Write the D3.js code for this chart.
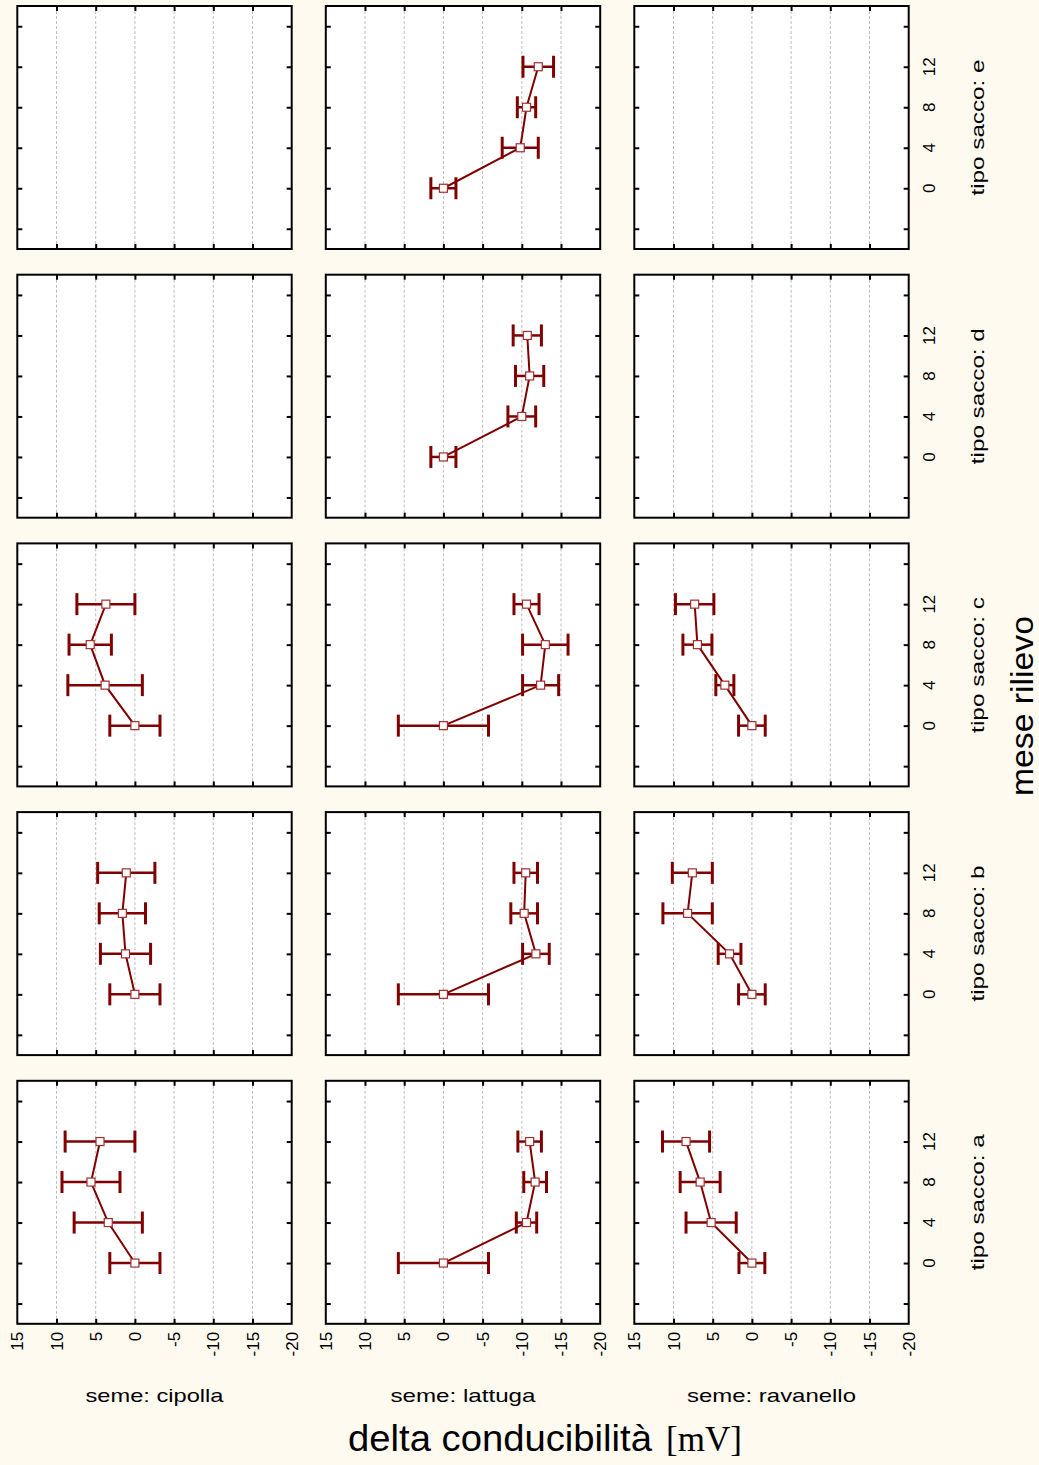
<!DOCTYPE html>
<html>
<head>
<meta charset="utf-8">
<script src="https://cdn.jsdelivr.net/npm/d3@7"></script>
<style>
  html, body { margin: 0; padding: 0; background: #fffaf0; }
  svg { display: block; }
  text { font-family: "Liberation Sans", Arial, sans-serif; fill: #000; }
</style>
</head>
<body>
<div id="chart"></div>
<script>
// seeds are columns, bag types are rows (a at the bottom)
var seeds = ["cipolla", "lattuga", "ravanello"];
var sacks = ["a", "b", "c", "d", "e"];
var months = [0, 4, 8, 12];
var xTicks = [15, 10, 5, 0, -5, -10, -15, -20];
var yTicks = [0, 4, 8, 12];
var yMinor = [-4, 0, 4, 8, 12, 16];

// means and half-width of error bars, one row per sack a..e (null = no data)
var meanCipolla = [[0, 3.4, 5.6, 4.45], [0, 1.2, 1.6, 1.1], [0, 3.8, 5.7, 3.7], null, null];
var errCipolla  = [[3.2, 4.35, 3.7, 4.45], [3.2, 3.2, 2.95, 3.65], [3.2, 4.75, 2.7, 3.7], null, null];
var meanLattuga = [[0, -10.6, -11.7, -11.0], [0, -11.8, -10.3, -10.5], [0, -12.4, -13.0, -10.6], [0, -10.0, -11.0, -10.7], [0, -9.8, -10.6, -12.1]];
var errLattuga  = [[5.75, 1.3, 1.45, 1.5], [5.75, 1.7, 1.7, 1.5], [5.75, 2.3, 2.9, 1.6], [1.6, 1.77, 1.8, 1.8], [1.6, 2.3, 1.17, 1.95]];
var meanRavanello = [[0, 5.2, 6.6, 8.4], [0, 2.85, 8.2, 7.6], [0, 3.45, 6.95, 7.3], null, null];
var errRavanello  = [[1.65, 3.2, 2.55, 3.0], [1.7, 1.45, 3.15, 2.55], [1.7, 1.15, 1.85, 2.45], null, null];

var means = [meanCipolla, meanLattuga, meanRavanello];
var errs = [errCipolla, errLattuga, errRavanello];

var width = 1039, height = 1465;
var panelW = 274.4, panelH = 243;
var left0 = 17.3, colStep = 308.5;
var top0 = 6, rowStep = 268.7;
var red = "#800000";

var svg = d3.select("#chart").append("svg")
    .attr("width", width)
    .attr("height", height);

svg.append("rect")
    .attr("width", width)
    .attr("height", height)
    .attr("fill", "#fffaf0");

var x = d3.scaleLinear().domain([15, -20]).range([0, panelW]);
var y = d3.scaleLinear().domain([-6, 18]).range([panelH, 0]);

seeds.forEach(function(seed, ci) {
  sacks.forEach(function(sack, si) {
    var ri = sacks.length - 1 - si;  // e on top
    var g = svg.append("g")
        .attr("transform", "translate(" + (left0 + ci * colStep) + "," + (top0 + ri * rowStep) + ")");

    g.append("rect")
        .attr("width", panelW)
        .attr("height", panelH)
        .attr("fill", "#fff");

    // dashed grid
    g.append("g")
      .selectAll("line")
        .data(xTicks.slice(1, -1))
      .enter().append("line")
        .attr("x1", function(d) { return x(d); })
        .attr("x2", function(d) { return x(d); })
        .attr("y1", 0)
        .attr("y2", panelH)
        .attr("stroke", "#bdbdbd")
        .attr("stroke-width", 1)
        .attr("stroke-dasharray", "3,2");

    // inward ticks on all four sides
    var tickStyle = function(sel) {
      sel.select(".domain").remove();
      sel.selectAll(".tick line").attr("stroke", "#000").attr("stroke-width", 2);
    };
    g.append("g").attr("transform", "translate(0," + panelH + ")")
        .call(d3.axisTop(x).tickValues(xTicks.slice(1, -1)).tickSize(5).tickFormat("")).call(tickStyle);
    g.append("g")
        .call(d3.axisBottom(x).tickValues(xTicks.slice(1, -1)).tickSize(5).tickFormat("")).call(tickStyle);
    g.append("g")
        .call(d3.axisRight(y).tickValues(yMinor).tickSize(5).tickFormat("")).call(tickStyle);
    g.append("g").attr("transform", "translate(" + panelW + ",0)")
        .call(d3.axisLeft(y).tickValues(yMinor).tickSize(5).tickFormat("")).call(tickStyle);

    g.append("rect")
        .attr("width", panelW)
        .attr("height", panelH)
        .attr("fill", "none")
        .attr("stroke", "#000")
        .attr("stroke-width", 2);

    var m = means[ci][si];
    var e = errs[ci][si];
    if (m) {
      var pts = months.map(function(mo, i) { return { month: mo, mean: m[i], err: e[i] }; });

      var bars = g.append("g").selectAll("g")
          .data(pts)
        .enter().append("g");
      bars.append("line")
          .attr("x1", function(d) { return x(d.mean + d.err); })
          .attr("x2", function(d) { return x(d.mean - d.err); })
          .attr("y1", function(d) { return y(d.month); })
          .attr("y2", function(d) { return y(d.month); })
          .attr("stroke", red)
          .attr("stroke-width", 2.5);
      [1, -1].forEach(function(s) {
        bars.append("line")
            .attr("x1", function(d) { return x(d.mean + s * d.err); })
            .attr("x2", function(d) { return x(d.mean + s * d.err); })
            .attr("y1", function(d) { return y(d.month) - 11; })
            .attr("y2", function(d) { return y(d.month) + 11; })
            .attr("stroke", red)
            .attr("stroke-width", 3);
      });

      g.append("path")
          .datum(pts)
          .attr("fill", "none")
          .attr("stroke", red)
          .attr("stroke-width", 2)
          .attr("d", d3.line()
              .x(function(d) { return x(d.mean); })
              .y(function(d) { return y(d.month); }));

      g.append("g").selectAll("rect")
          .data(pts)
        .enter().append("rect")
          .attr("x", function(d) { return x(d.mean) - 4; })
          .attr("y", function(d) { return y(d.month) - 4; })
          .attr("width", 8)
          .attr("height", 8)
          .attr("fill", "#fff")
          .attr("stroke", "#a03030")
          .attr("stroke-width", 1.2);
    }

    // x tick labels under bottom row
    if (ri === sacks.length - 1) {
      g.append("g").selectAll("text")
          .data(xTicks)
        .enter().append("text")
          .attr("transform", function(d) { return "translate(" + (x(d) + 6) + "," + (panelH + 8) + ") rotate(-90)"; })
          .attr("text-anchor", "end")
          .attr("font-size", 17)
          .text(function(d) { return d; });
    }

    // y tick labels and row label right of last column
    if (ci === seeds.length - 1) {
      g.append("g").selectAll("text")
          .data(yTicks)
        .enter().append("text")
          .attr("transform", function(d) { return "translate(" + (panelW + 26) + "," + y(d) + ") rotate(-90)"; })
          .attr("text-anchor", "middle")
          .attr("font-size", 17)
          .text(function(d) { return d; });
      g.append("text")
          .attr("transform", "translate(" + (panelW + 75) + "," + (panelH / 2) + ") rotate(-90)")
          .attr("text-anchor", "middle")
          .attr("font-size", 19)
          .attr("textLength", 136)
          .attr("lengthAdjust", "spacingAndGlyphs")
          .text("tipo sacco: " + sack);
    }
  });

  // column label
  var colLen = [138, 145, 169];
  svg.append("text")
      .attr("x", left0 + ci * colStep + panelW / 2)
      .attr("y", 1402)
      .attr("text-anchor", "middle")
      .attr("font-size", 19)
      .attr("textLength", colLen[ci])
      .attr("lengthAdjust", "spacingAndGlyphs")
      .text("seme: " + seed);
});

// axis titles
svg.append("text")
    .attr("transform", "translate(1033,706) rotate(-90)")
    .attr("text-anchor", "middle")
    .attr("font-size", 31)
    .attr("textLength", 180)
    .attr("lengthAdjust", "spacingAndGlyphs")
    .text("mese rilievo");

svg.append("text")
    .attr("x", 348)
    .attr("y", 1451)
    .attr("font-size", 37)
    .attr("textLength", 304)
    .attr("lengthAdjust", "spacingAndGlyphs")
    .text("delta conducibilità");

svg.append("text")
    .attr("x", 666)
    .attr("y", 1451)
    .attr("font-size", 35)
    .style("font-family", "'Liberation Serif', 'Times New Roman', serif")
    .text("[mV]");
</script>
</body>
</html>
